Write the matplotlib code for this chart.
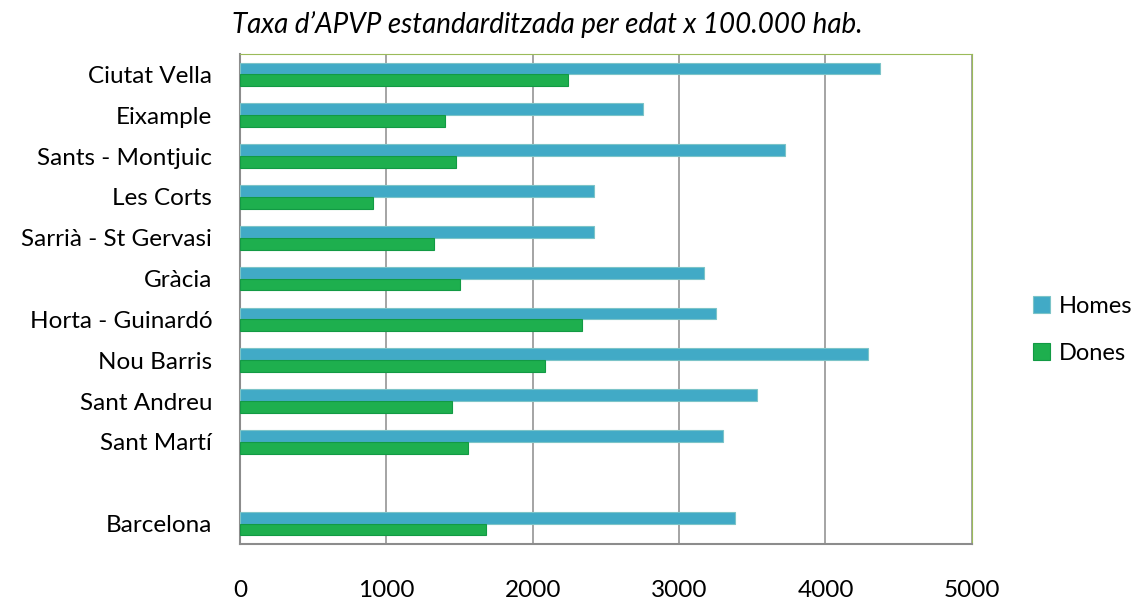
import matplotlib.pyplot as plt

districtes = ['Ciutat Vella', 'Eixample', 'Sants - Montjuic', 'Les Corts',
              'Sarrià - St Gervasi', 'Gràcia', 'Horta - Guinardó', 'Nou Barris',
              'Sant Andreu', 'Sant Martí', '', 'Barcelona']
homes = [4374, 2755, 3725, 2420, 2422, 3172, 3254, 4288, 3530, 3302, None, 3384]
dones = [2244, 1401, 1476, 911, 1328, 1504, 2338, 2085, 1449, 1558, None, 1679]

plt.rcParams['font.family'] = ['Lato', 'DejaVu Sans']

fig = plt.figure(figsize=(11.4, 6.01), dpi=100)
ax = fig.add_axes([0.2105, 0.0948, 0.642, 0.8153])

n = len(districtes)
pos = [n - 1 - i for i in range(n)]
h = 0.29
hy = [p + h / 2 for p, v in zip(pos, homes) if v is not None]
hv = [v for v in homes if v is not None]
dy = [p - h / 2 for p, v in zip(pos, dones) if v is not None]
dv = [v for v in dones if v is not None]

ax.barh(hy, hv, height=h, color='#41aac6', edgecolor='#7cc4c8', linewidth=0.8,
        label='Homes', zorder=3)
ax.barh(dy, dv, height=h, color='#1eaf4e', edgecolor='#129a44', linewidth=0.8,
        label='Dones', zorder=3)

ax.set_xlim(0, 5000)
ax.set_ylim(-0.5, n - 0.5)
ax.set_yticks(pos)
ax.set_yticklabels(districtes, fontsize=17.5)
ax.set_xticks(range(0, 5001, 1000))
ax.tick_params(axis='x', labelsize=17.5, pad=26, length=0)
ax.tick_params(axis='y', length=0, pad=20)
ax.grid(axis='x', color='#8c8c8c', linewidth=1.1, zorder=0)

ax.spines['left'].set_color('#8c8c8c')
ax.spines['bottom'].set_color('#8c8c8c')
ax.spines['left'].set_linewidth(1.5)
ax.spines['bottom'].set_linewidth(1.5)
ax.spines['top'].set_color('#9bbb59')
ax.spines['right'].set_color('#9bbb59')

fig.text(0.48, 0.96, 'Taxa d\u2019APVP estandarditzada per edat x 100.000 hab.',
         ha='center', va='center', fontsize=20, style='italic')

ax.legend(loc='center left', bbox_to_anchor=(1.071, 0.437), frameon=False,
          fontsize=17, handlelength=0.7, handleheight=0.7, labelspacing=1.1,
          handletextpad=0.4, borderaxespad=0)

plt.savefig('out.png')
